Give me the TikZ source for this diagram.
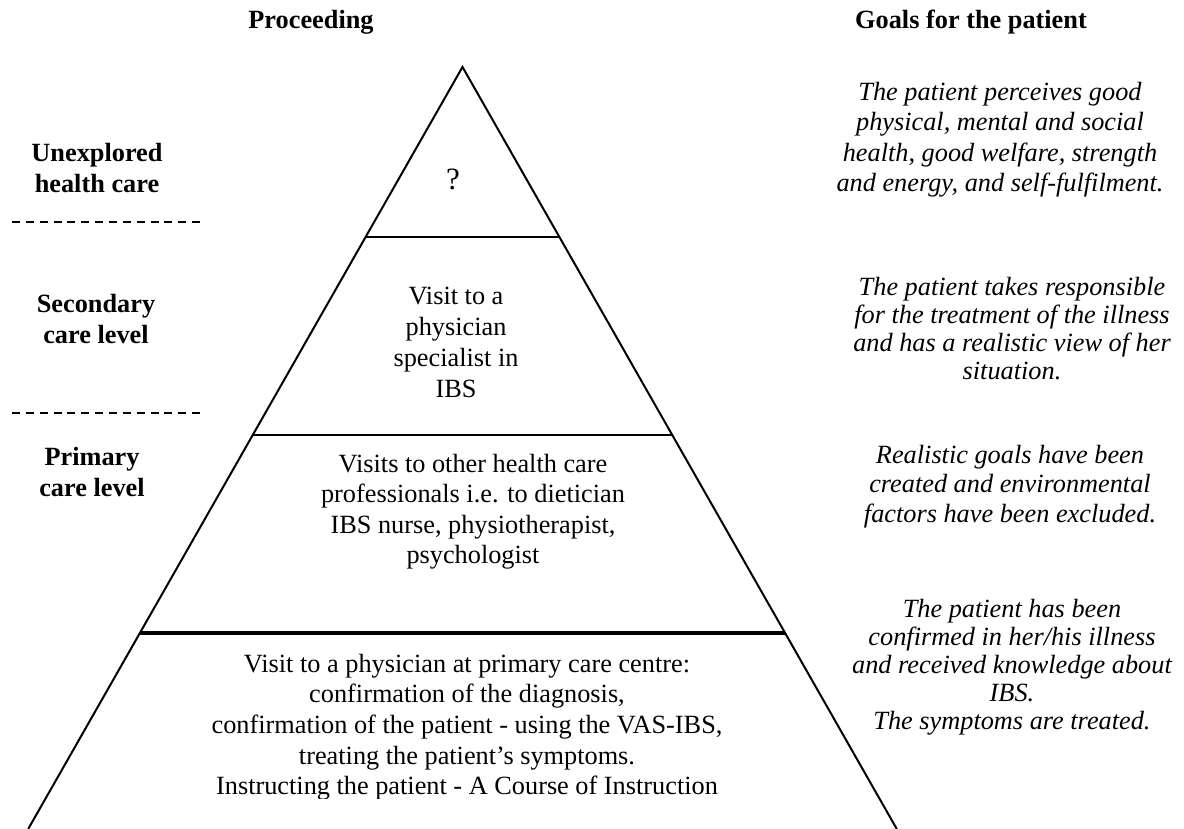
\documentclass[tikz,border=0pt]{standalone}
\usepackage{fontspec}
\setmainfont{Liberation Serif}
\begin{document}
\begin{tikzpicture}[x=1pt,y=-1pt,
  side/.style={line width=2pt, line join=miter},
  level/.style={line width=2.8pt},
  levelthick/.style={line width=4pt},
  sep/.style={line width=1.6pt, dash pattern=on 8pt off 5.85pt},
  head/.style={inner sep=0pt, anchor=base, font=\fontsize{26.3}{31}\selectfont\bfseries},
  lab/.style={inner sep=0pt, anchor=north, align=center, font=\fontsize{26.3}{31}\selectfont\bfseries},
  body/.style={inner sep=0pt, anchor=north, align=center, font=\fontsize{26.3}{#1}\selectfont},
  goal/.style={inner sep=0pt, anchor=north, align=center, font=\fontsize{26.3}{#1}\selectfont\itshape},
  single/.style={inner sep=0pt, anchor=base, font=\fontsize{31}{36}\selectfont},
]
\useasboundingbox (0,0) rectangle (1184,829);

% pyramid geometry
\coordinate (apex) at (462.5,67);
\coordinate (bl) at (28.2,829);
\coordinate (br) at (896.8,829);
\coordinate (l1a) at (365.6,237);
\coordinate (l1b) at (559.4,237);
\coordinate (l2a) at (252.7,435);
\coordinate (l2b) at (672.3,435);
\coordinate (l3a) at (139.9,633);
\coordinate (l3b) at (785.1,633);

\draw[side] (bl) -- (apex) -- (br);
\draw[level] (l1a) -- (l1b);
\draw[level] (l2a) -- (l2b);
\draw[levelthick] (l3a) -- (l3b);

% dashed separators on the left
\coordinate (s1a) at (12,222);
\coordinate (s1b) at (200,222);
\coordinate (s2a) at (12,413);
\coordinate (s2b) at (200,413);
\draw[sep] (s1a) -- (s1b);
\draw[sep] (s2a) -- (s2b);

% headers
\node[head] (hproc) at (311,29) {Proceeding};
\node[head] (hgoal) at (971,29) {Goals for the patient};

% left labels
\node[lab] (unexp) at (97,139.3) {\strut Unexplored\\health care};
\node[lab] (second) at (96,290.3) {\strut Secondary\\care level};
\node[lab] (primary) at (92,443.3) {\strut Primary\\care level};

% pyramid contents
\node[single] (quest) at (453,190) {?};
\node[body=31] (spec) at (456,282.3) {\strut Visit to a\\physician\\specialist in\\IBS};
\node[body=30.5] (other) at (473,450.65) {\strut Visits to other health care\\professionals i.e. to dietician\\IBS nurse, physiotherapist,\\psychologist};
\begin{scope}
  \clip (0,0) rectangle (1184,798);
  \node[body=30.7] (prim) at (467,650.5) {\strut Visit to a physician at primary care centre:\\confirmation of the diagnosis,\\confirmation of the patient - using the VAS-IBS,\\treating the patient’s symptoms.\\Instructing the patient - A Course of Instruction};
\end{scope}

% goals
\node[goal=30.5] (g1) at (1000,78.65) {\strut The patient perceives good\\physical, mental and social\\health, good welfare, strength\\and energy, and self-fulfilment.};
\node[goal=28] (g2) at (1012,275.4) {\strut The patient takes responsible\\for the treatment of the illness\\and has a realistic view of her\\situation.};
\node[goal=29.5] (g3) at (1010,442.35) {\strut Realistic goals have been\\created and environmental\\factors have been excluded.};
\node[goal=28] (g4) at (1012,597.4) {\strut The patient has been\\confirmed in her/his illness\\and received knowledge about\\IBS.\\The symptoms are treated.};
\end{tikzpicture}
\end{document}
